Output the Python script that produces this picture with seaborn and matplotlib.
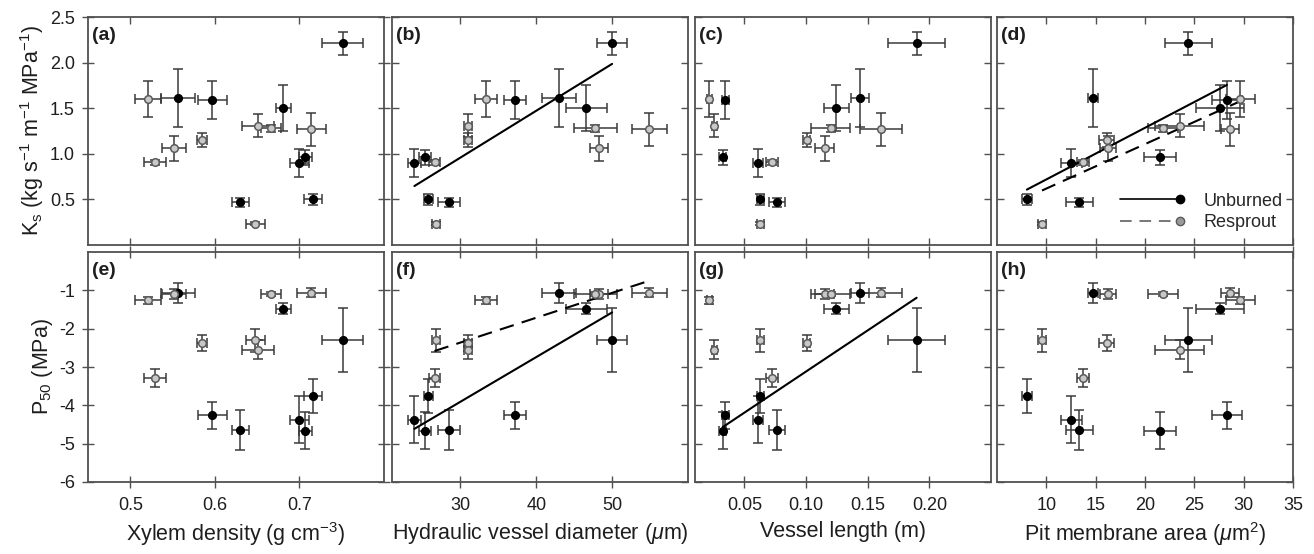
import numpy as np
import pandas as pd
import matplotlib
matplotlib.use("Agg")
import matplotlib.pyplot as plt
import seaborn as sns
from matplotlib.lines import Line2D
from matplotlib.legend_handler import HandlerLine2D

# ---------------- data (one value per species) ----------------
# Unburned
ub_density = [0.751, 0.556, 0.597, 0.681, 0.700, 0.707, 0.630, 0.716]
ub_density_err = [0.024, 0.020, 0.017, 0.009, 0.011, 0.008, 0.010, 0.011]
ub_diam = [50.0, 43.0, 37.2, 46.6, 23.95, 25.4, 28.5, 25.8]
ub_diam_err = [1.95, 2.3, 1.5, 2.7, 0.9, 0.8, 1.5, 0.6]
ub_length = [0.1897, 0.1436, 0.0345, 0.1246, 0.0611, 0.0324, 0.0766, 0.063]
ub_length_err = [0.023, 0.0075, 0.003, 0.010, 0.004, 0.003, 0.0065, 0.003]
ub_pit = [24.37, 14.75, 28.3, 27.6, 12.54, 21.5, 13.36, 8.03]
ub_pit_err = [2.37, 0.5, 1.5, 2.4, 1.1, 1.6, 1.4, 0.5]
ub_ks = [2.21, 1.61, 1.59, 1.50, 0.90, 0.96, 0.47, 0.50]
ub_ks_err = [0.13, 0.32, 0.21, 0.25, 0.15, 0.08, 0.05, 0.06]
ub_p50 = [-2.30, -1.07, -4.26, -1.48, -4.37, -4.66, -4.65, -3.76]
ub_p50_err = [0.83, 0.26, 0.35, 0.15, 0.62, 0.49, 0.52, 0.44]

# Resprout
rs_density = [0.521, 0.552, 0.529, 0.585, 0.651, 0.666, 0.714, 0.648]
rs_density_err = [0.015, 0.014, 0.013, 0.006, 0.019, 0.012, 0.017, 0.011]
rs_diam = [33.4, 48.3, 26.6, 31.0, 31.0, 47.8, 54.9, 26.8]
rs_diam_err = [1.4, 1.2, 0.7, 0.5, 0.5, 2.8, 2.3, 0.5]
rs_length = [0.0215, 0.115, 0.0725, 0.1005, 0.0256, 0.120, 0.1607, 0.063]
rs_length_err = [0.002, 0.008, 0.005, 0.003, 0.002, 0.016, 0.017, 0.003]
rs_pit = [29.66, 16.24, 13.73, 16.1, 23.5, 21.8, 28.6, 9.56]
rs_pit_err = [1.44, 0.8, 0.6, 0.8, 2.45, 1.5, 0.9, 0.4]
rs_ks = [1.60, 1.06, 0.905, 1.15, 1.31, 1.28, 1.27, 0.235]
rs_ks_err = [0.20, 0.14, 0.03, 0.08, 0.13, 0.04, 0.18, 0.02]
rs_p50 = [-1.26, -1.09, -3.29, -2.38, -2.55, -1.10, -1.06, -2.30]
rs_p50_err = [0.09, 0.13, 0.24, 0.21, 0.25, 0.06, 0.12, 0.30]

panel_letters = ["(a)", "(b)", "(c)", "(d)", "(e)", "(f)", "(g)", "(h)"]
x_labels = ["Xylem density (g cm$^{-3}$)",
            "Hydraulic vessel diameter ($\\mathit{\\mu}$m)",
            "Vessel length (m)",
            "Pit membrane area ($\\mathit{\\mu}$m$^{2}$)"]
ks_label = "K$_\\mathrm{s}$ (kg s$^{-1}$ m$^{-1}$ MPa$^{-1}$)"
p50_label = "P$_{50}$ (MPa)"
x_ticks = [[0.5, 0.6, 0.7], [30, 40, 50], [0.05, 0.10, 0.15, 0.20], [10, 15, 20, 25, 30, 35]]
x_tick_labels = [["0.5", "0.6", "0.7"], ["30", "40", "50"],
                 ["0.05", "0.10", "0.15", "0.20"], ["10", "15", "20", "25", "30", "35"]]
x_limits = [(0.45, 0.80), (21, 60), (0.01, 0.25), (5, 35)]
ks_ticks = [0.5, 1.0, 1.5, 2.0, 2.5]
p50_ticks = [-1, -2, -3, -4, -5, -6]

# significant regressions: (row, col, group)
fits = [(0, 1, "Unburned"), (0, 3, "Unburned"), (0, 3, "Resprout"),
        (1, 1, "Unburned"), (1, 1, "Resprout"), (1, 2, "Unburned")]

# ---------------- tables ----------------
def table(group, d, de, dm, dme, l, le, p, pe, k, ke, q, qe):
    return pd.DataFrame({"group": group, "density": d, "density_err": de,
                         "diam": dm, "diam_err": dme, "length": l, "length_err": le,
                         "pit": p, "pit_err": pe, "ks": k, "ks_err": ke,
                         "p50": q, "p50_err": qe})

df = pd.concat([
    table("Unburned", ub_density, ub_density_err, ub_diam, ub_diam_err, ub_length,
          ub_length_err, ub_pit, ub_pit_err, ub_ks, ub_ks_err, ub_p50, ub_p50_err),
    table("Resprout", rs_density, rs_density_err, rs_diam, rs_diam_err, rs_length,
          rs_length_err, rs_pit, rs_pit_err, rs_ks, rs_ks_err, rs_p50, rs_p50_err),
], ignore_index=True)

xvars = ["density", "diam", "length", "pit"]
yvars = ["ks", "p50"]

# ---------------- style ----------------
sns.set_theme(style="ticks")
plt.rcParams["font.family"] = ["Liberation Sans", "DejaVu Sans"]
plt.rcParams["mathtext.fontset"] = "custom"
plt.rcParams["mathtext.rm"] = "Liberation Sans"
plt.rcParams["mathtext.it"] = "Liberation Sans:italic"
plt.rcParams["mathtext.bf"] = "Liberation Sans:bold"
plt.rcParams["axes.unicode_minus"] = False

spine_c = "#505050"
err_c = "#3a3a3a"
txt_c = "#1e1e1e"
styles = {"Unburned": dict(mfc="black", mec="black", ls="-"),
          "Resprout": dict(mfc="#c8c8c8", mec="#5a5a5a", ls=(0, (7, 4)))}

W, H = 1314, 554
fig = plt.figure(figsize=(W / 100, H / 100), dpi=100)
lefts = [88, 392, 695, 997]
pw = 296
rows = [(17, 245), (252, 482)]

axes = [[None] * 4 for _ in range(2)]
for r, (top, bot) in enumerate(rows):
    for c, lx in enumerate(lefts):
        ax = fig.add_axes([lx / W, 1 - bot / H, pw / W, (bot - top) / H])
        axes[r][c] = ax
        xv, yv = xvars[c], yvars[r]
        for g in ["Unburned", "Resprout"]:
            sub = df[df.group == g]
            ax.errorbar(sub[xv], sub[yv], xerr=sub[xv + "_err"], yerr=sub[yv + "_err"],
                        fmt="none", ecolor=err_c, elinewidth=1.1, capsize=3.5,
                        capthick=1.1, zorder=2)
        for g in ["Unburned", "Resprout"]:
            sub = df[df.group == g]
            sns.scatterplot(data=sub, x=xv, y=yv, ax=ax, s=30, marker="o",
                            color=styles[g]["mfc"], edgecolor=styles[g]["mec"],
                            linewidth=1.1, zorder=4, legend=False)
        for (fr, fc, g) in fits:
            if fr == r and fc == c:
                sub = df[df.group == g]
                sns.regplot(data=sub, x=xv, y=yv, ax=ax, scatter=False, ci=None,
                            truncate=True, color="black",
                            line_kws=dict(lw=1.5, ls=styles[g]["ls"], zorder=3))
        ax.set_xlim(*x_limits[c])
        ax.set_xticks(x_ticks[c])
        if r == 0:
            ax.set_ylim(0, 2.5)
            ax.set_yticks(ks_ticks)
            ax.set_yticklabels([f"{t:.1f}" for t in ks_ticks])
        else:
            ax.set_ylim(-6, 0)
            ax.set_yticks(p50_ticks)
            ax.set_yticklabels([str(t) for t in p50_ticks])
        ax.tick_params(axis="both", which="both", top=True, right=True, direction="in",
                       length=5, width=1.0, color=spine_c, labelsize=13,
                       labelcolor=txt_c)
        if r == 1:
            ax.set_xticklabels(x_tick_labels[c])
            ax.tick_params(axis="x", which="both", bottom=True, direction="inout",
                           length=9, pad=6)
            ax.set_xlabel(x_labels[c], fontsize=15.5, color=txt_c, labelpad=5)
        else:
            ax.set_xticklabels([])
            ax.set_xlabel("")
        if c == 0:
            ax.tick_params(axis="y", left=True, direction="inout", length=9, pad=5)
            ax.set_ylabel(ks_label if r == 0 else p50_label, fontsize=15.5,
                          color=txt_c, labelpad=3)
        else:
            ax.set_yticklabels([])
            ax.set_ylabel("")
        for s in ax.spines.values():
            s.set_color(spine_c)
            s.set_linewidth(1.3)
        ax.text(0.015, 0.955, panel_letters[r * 4 + c], transform=ax.transAxes,
                fontsize=14, fontweight="bold", ha="left", va="top", color=txt_c)


class EndMarkerHandler(HandlerLine2D):
    def create_artists(self, legend, orig_handle, xdescent, ydescent, width, height,
                       fontsize, trans):
        y = height / 2.0 - ydescent
        x0, x1 = -xdescent, width - xdescent
        line = Line2D([x0, x1], [y, y])
        self.update_prop(line, orig_handle, legend)
        line.set_marker("None")
        mk = Line2D([x1], [y])
        self.update_prop(mk, orig_handle, legend)
        mk.set_linestyle("None")
        line.set_transform(trans)
        mk.set_transform(trans)
        return [line, mk]


handles = [Line2D([], [], color="black", lw=1.2, ls="-", marker="o", ms=6,
                  mfc="black", mec="black"),
           Line2D([], [], color="#777777", lw=1.4, ls=(0, (6, 4)), marker="o", ms=6,
                  mfc="#9a9a9a", mec="#5a5a5a")]
axes[0][3].legend(handles, ["Unburned", "Resprout"], loc="lower right",
                  bbox_to_anchor=(1.02, -0.01), frameon=False, fontsize=13,
                  handlelength=3.3, handletextpad=1.3, labelspacing=0.25,
                  handler_map={Line2D: EndMarkerHandler()})

fig.savefig("out.png", dpi=100)
